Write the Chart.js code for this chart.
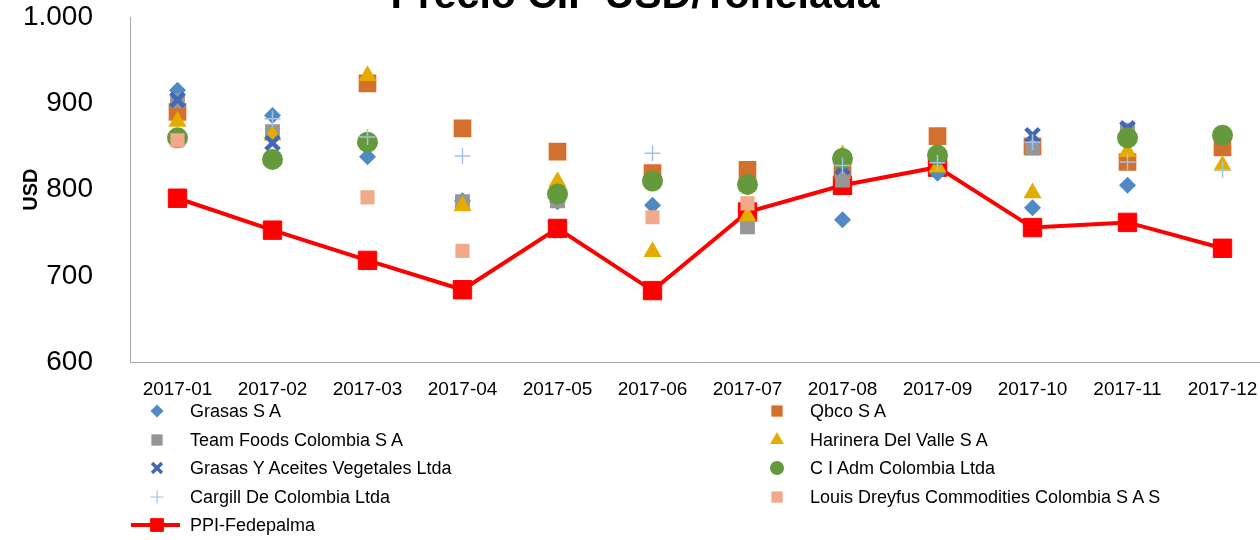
<!DOCTYPE html>
<html>
<head>
<meta charset="utf-8">
<title>Precio CIF USD/Tonelada</title>
<script src="https://cdn.jsdelivr.net/npm/chart.js@4.4.1/dist/chart.umd.min.js"></script>
<style>
  html, body { margin: 0; padding: 0; background: #fff; overflow: hidden; width: 1260px; height: 540px; }
  #chart-wrap { position: absolute; left: 0; top: -40px; width: 1270px; height: 457px; }
  #legend { position: absolute; left: 0; top: 0; width: 1260px; height: 540px; font-family: 'Liberation Sans', Arial, sans-serif; font-size: 18px; color: #000; }
  .lg-item { position: absolute; height: 28px; line-height: 28px; white-space: nowrap; }
  .lg-mark { position: absolute; }
</style>
</head>
<body>
<div id="chart-wrap"><canvas id="precio-chart" width="1270" height="457"></canvas></div>
<div id="legend"></div>
<script>
// Data (USD per tonne)
const months = ['2017-01', '2017-02', '2017-03', '2017-04', '2017-05', '2017-06',
                '2017-07', '2017-08', '2017-09', '2017-10', '2017-11', '2017-12'];
const yTickLabels = ['600', '700', '800', '900', '1.000'];

const grasasSA      = [915, 886, 838, 787, 786, 782, null, 765, 819, 779, 805, null];
const qbcoSA        = [890, null, 923, 871, 844, 819, 823, 823, 862, 850, 832, 849];
const teamFoods     = [903, 867, null, 786, 787, null, 757, 811, null, 848, 869, null];
const harinera      = [879, 863, 932, 781, 809, 728, 769, 840, 826, 796, 844, 828];
const grasasAceites = [904, 854, null, null, null, null, null, 826, null, 863, 871, null];
const ciAdm         = [860, 835, 855, null, 795, 810, 806, 836, 840, null, 860, 863];
const cargill       = [null, 882, 861, 839, null, 842, null, 828, 831, 855, 832, 823];
const louisDreyfus  = [857, null, 791, 729, null, 768, 784, null, null, null, null, null];
const ppiFedepalma  = [790, 753, 718, 684, 755, 683, 774, 805, 826, 756, 762, 732];

const FONT = "'Liberation Sans', Arial, sans-serif";

// marker-only series (Excel draws later series on top, line below everything)
function markerSet(label, data, color, style, radius, order, borderWidth) {
    const stroked = style === 'cross' || style === 'crossRot';
    return {
        label: label,
        data: data,
        showLine: false,
        pointStyle: style,
        pointRadius: radius,
        pointHoverRadius: radius,
        pointBackgroundColor: color,
        pointBorderColor: color,
        pointBorderWidth: borderWidth || (stroked ? 2 : 0),
        order: order
    };
}

const datasets = [
    markerSet('Grasas S A', grasasSA, '#4F8AC6', 'rectRot', 8.5, 8),
    markerSet('Qbco S A', qbcoSA, '#D4702D', 'rect', 12.5, 7),
    markerSet('Team Foods Colombia S A', teamFoods, '#969696', 'rect', 10.5, 6),
    markerSet('Harinera Del Valle S A', harinera, '#E5AC00', 'triangle', 10.5, 5),
    markerSet('Grasas Y Aceites Vegetales Ltda', grasasAceites, '#4269B6', 'crossRot', 9.5, 4, 4.5),
    markerSet('C I Adm Colombia Ltda', ciAdm, '#64993E', 'circle', 10.5, 3),
    markerSet('Cargill De Colombia Ltda', cargill, '#A2C2E8', 'cross', 8, 2, 1.5),
    markerSet('Louis Dreyfus Commodities Colombia S A S', louisDreyfus, '#F2A98B', 'rect', 10, 1),
    {
        label: 'PPI-Fedepalma',
        data: ppiFedepalma,
        showLine: true,
        borderColor: '#FF0000',
        borderWidth: 4,
        tension: 0,
        pointStyle: 'rect',
        pointRadius: 13,
        pointHoverRadius: 13,
        pointBackgroundColor: '#FF0000',
        pointBorderColor: '#FF0000',
        pointBorderWidth: 1,
        order: 9
    }
];

// smaller marker sizes for the legend
const legendRadius = [6.5, 8, 8, 8, 7, 7, 6.5, 8, 9];
const legendBorder = [0, 0, 0, 0, 3.5, 0, 1.2, 0, 1];

const chart = new Chart(document.getElementById('precio-chart'), {
    type: 'line',
    data: { labels: months, datasets: datasets },
    options: {
        responsive: false,
        animation: false,
        layout: { padding: 0, autoPadding: false },
        plugins: {
            legend: { display: false },
            tooltip: { enabled: false },
            title: {
                display: true,
                text: 'Precio CIF USD/Tonelada',
                color: '#000',
                font: { family: FONT, size: 41, weight: 'bold', lineHeight: 1 },
                padding: { top: 16, bottom: 0 }
            }
        },
        scales: {
            x: {
                type: 'category',
                offset: true,
                grid: { display: false, drawTicks: false },
                border: { display: true, color: '#A6A6A6', width: 1 },
                ticks: {
                    color: '#000',
                    padding: 16,
                    maxRotation: 0,
                    autoSkip: false,
                    font: { family: FONT, size: 19 }
                },
                afterFit: function(scale) {
                    // plot runs right to the canvas edge, like the original
                    scale.paddingLeft = 0;
                    scale.paddingRight = 0;
                }
            },
            y: {
                min: 600,
                max: 1000,
                grid: { display: false, drawTicks: false },
                border: { display: true, color: '#A6A6A6', width: 1 },
                ticks: {
                    stepSize: 100,
                    color: '#000',
                    padding: 37,
                    font: { family: FONT, size: 28 },
                    callback: function(value, index) {
                        return yTickLabels[index];
                    }
                },
                title: {
                    display: true,
                    text: 'USD',
                    color: '#000',
                    font: { family: FONT, size: 20, weight: 'bold' },
                    padding: { top: 19, bottom: 0 }
                },
                afterFit: function(scale) {
                    scale.width = 130;
                }
            }
        }
    }
});

// Two-column legend like the original (row-major order)
function buildLegend() {
    const legend = document.getElementById('legend');
    const rowY = [411, 440, 468, 497, 525];

    chart.data.datasets.forEach((ds, i) => {
        const col = i % 2;
        const row = Math.floor(i / 2);
        const markX = col === 0 ? 157 : 777;
        const textX = col === 0 ? 190 : 810;
        const y = rowY[row];

        const mark = document.createElement('canvas');
        mark.className = 'lg-mark';
        mark.width = 60;
        mark.height = 28;
        mark.style.left = (markX - 30) + 'px';
        mark.style.top = (y - 14) + 'px';
        legend.appendChild(mark);

        const ctx = mark.getContext('2d');
        if (ds.showLine) {
            ctx.strokeStyle = ds.borderColor;
            ctx.lineWidth = ds.borderWidth;
            ctx.beginPath();
            ctx.moveTo(4, 14);
            ctx.lineTo(53, 14);
            ctx.stroke();
        }
        ctx.fillStyle = ds.pointBackgroundColor;
        ctx.strokeStyle = ds.pointBorderColor;
        ctx.lineWidth = legendBorder[i];
        Chart.helpers.drawPoint(ctx, {
            pointStyle: ds.pointStyle,
            radius: legendRadius[i],
            rotation: 0,
            borderWidth: legendBorder[i]
        }, 30, 14);

        const text = document.createElement('div');
        text.className = 'lg-item';
        text.style.left = textX + 'px';
        text.style.top = (y - 14) + 'px';
        text.textContent = ds.label;
        legend.appendChild(text);
    });
}

buildLegend();
</script>
</body>
</html>
